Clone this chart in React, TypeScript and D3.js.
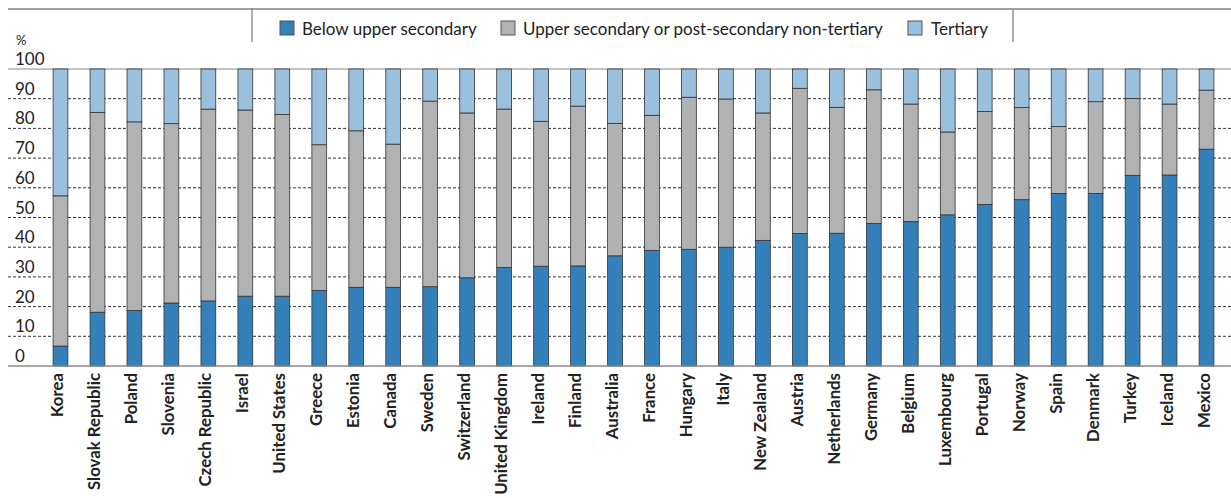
import { scaleBand, scaleLinear, stack } from "d3";

const countries = [
  "Korea", "Slovak Republic", "Poland", "Slovenia", "Czech Republic", "Israel",
  "United States", "Greece", "Estonia", "Canada", "Sweden", "Switzerland",
  "United Kingdom", "Ireland", "Finland", "Australia", "France", "Hungary",
  "Italy", "New Zealand", "Austria", "Netherlands", "Germany", "Belgium",
  "Luxembourg", "Portugal", "Norway", "Spain", "Denmark", "Turkey", "Iceland", "Mexico",
];

// % below upper secondary
const belowUpper = [
  6.7, 18.1, 18.7, 21.2, 21.9, 23.5, 23.5, 25.4, 26.5, 26.5, 26.7, 29.7,
  33.2, 33.6, 33.7, 37.1, 38.9, 39.3, 40.0, 42.3, 44.6, 44.7, 48.0, 48.6,
  50.9, 54.4, 56.0, 58.1, 58.1, 64.2, 64.3, 73.0,
];
// % upper secondary or post-secondary non-tertiary
const upperSecondary = [
  50.6, 67.3, 63.5, 60.4, 64.6, 62.7, 61.2, 49.1, 52.7, 48.2, 62.5, 55.5,
  53.3, 48.8, 53.8, 44.6, 45.5, 51.2, 49.9, 42.9, 48.9, 42.4, 45.0, 39.6,
  27.9, 31.3, 31.0, 22.5, 30.9, 25.9, 23.9, 19.9,
];
// % tertiary
const tertiary = [
  42.7, 14.6, 17.8, 18.4, 13.5, 13.8, 15.3, 25.5, 20.8, 25.3, 10.8, 14.8,
  13.5, 17.6, 12.5, 18.3, 15.6, 9.5, 10.1, 14.8, 6.5, 12.9, 7.0, 11.8,
  21.2, 14.3, 13.0, 19.4, 11.0, 9.9, 11.8, 7.1,
];

const seriesKeys = ["below", "upper", "tertiary"];
const seriesLabels = ["Below upper secondary", "Upper secondary or post-secondary non-tertiary", "Tertiary"];
const colors = ["#3480ba", "#b1b2b4", "#9bc0de"];
const yTicks = [0, 10, 20, 30, 40, 50, 60, 70, 80, 90, 100];

const W = 1231;
const H = 498;
const font = "Lato, 'Open Sans', sans-serif";

export default function App() {
  const rows = countries.map((c, i) => ({
    country: c,
    below: belowUpper[i],
    upper: upperSecondary[i],
    tertiary: tertiary[i],
  }));
  const stacked = stack().keys(seriesKeys)(rows as any);

  const x = scaleBand().domain(countries).range([42, 1225]).paddingInner(0.6).paddingOuter(0.3);
  const y = scaleLinear().domain([0, 100]).range([366, 69]);

  // legend swatch / text positions
  const legendSwatch = [280, 501, 908];
  const legendText = [302, 523, 931];

  return (
    <svg width={W} height={H} style={{ position: "absolute", left: 0, top: 0, fontFamily: font }}>
      {/* frame / legend */}
      <line x1={8} x2={W} y1={9} y2={9} stroke="#444" strokeWidth={1.2} />
      <line x1={252} x2={252} y1={9} y2={42} stroke="#777" strokeWidth={1.2} />
      <line x1={1013} x2={1013} y1={9} y2={42} stroke="#777" strokeWidth={1.2} />
      {seriesLabels.map((l, i) => (
        <g key={l}>
          <rect x={legendSwatch[i]} y={21} width={14} height={14} fill={colors[i]} stroke="#555" strokeWidth={1} />
          <text x={legendText[i]} y={35} fontSize={17} fill="#222">{l}</text>
        </g>
      ))}

      {/* grid */}
      {yTicks.filter(t => t > 0 && t < 100).map(t => (
        <line key={t} x1={8} x2={W} y1={y(t)} y2={y(t)} stroke="#333" strokeWidth={1} strokeDasharray="3,2" />
      ))}
      <line x1={8} x2={W} y1={y(100)} y2={y(100)} stroke="#888" strokeWidth={1.2} />

      <text x={16} y={45} fontSize={13} fill="#222">%</text>
      {yTicks.map(t => (
        <text key={t} x={15} y={y(t) - 4} fontSize={17} fill="#222">{t}</text>
      ))}

      {/* bars */}
      {stacked.map((s, si) => (
        <g key={seriesKeys[si]}>
          {s.map((d: any) => (
            <rect
              key={d.data.country}
              x={x(d.data.country)}
              y={y(d[1])}
              width={x.bandwidth()}
              height={y(d[0]) - y(d[1])}
              fill={colors[si]}
              stroke="#333"
              strokeWidth={0.8}
            />
          ))}
        </g>
      ))}

      <line x1={8} x2={W} y1={y(0)} y2={y(0)} stroke="#888" strokeWidth={1.5} />

      {/* category labels */}
      {countries.map(c => (
        <text
          key={c}
          transform={`translate(${(x(c) ?? 0) + x.bandwidth() / 2 + 3},373) rotate(-90)`}
          textAnchor="end"
          fontSize={16.8}
          fontWeight={700}
          fill="#222"
        >
          {c}
        </text>
      ))}
    </svg>
  );
}
